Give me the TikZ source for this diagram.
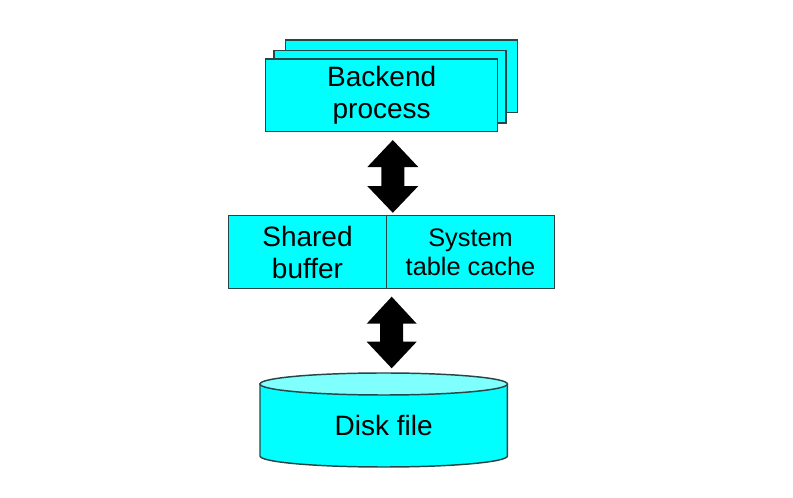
\documentclass[tikz,border=0pt]{standalone}
\usepackage{fontspec}
\setmainfont{Liberation Sans}
\usepackage{tikz}
\usetikzlibrary{calc}

\definecolor{boxcyan}{RGB}{0,255,255}
\definecolor{topcyan}{RGB}{128,255,255}
\definecolor{edgegray}{RGB}{40,70,70}

\tikzset{
  procbox/.style={draw=edgegray,fill=boxcyan,line width=1.1pt,outer sep=0pt,
    minimum width=174pt,minimum height=54.4pt,align=center,
    font=\fontsize{21}{24}\selectfont},
  cachebox/.style={draw=edgegray,fill=boxcyan,line width=1.1pt,outer sep=0pt,
    minimum height=54.45pt,align=center,inner sep=0pt},
  bigarrow/.style={fill=black}
}

\begin{document}
\begin{tikzpicture}[x=0.75pt,y=-0.75pt]
  \useasboundingbox (0,0) rectangle (793,498);
  % stack of processes
  \node[procbox](bp3)at(401.3,76.3){};
  \node[procbox](bp2)at(390,86.8){};
  \node[procbox](bp)at(381.7,95.5){Backend\\process};
  % memory
  \node[cachebox,minimum width=118.8pt,font=\fontsize{21}{24}\selectfont](sb)at(307.5,252){Shared\\buffer};
  \node[cachebox,minimum width=125.7pt,font=\fontsize{19}{22}\selectfont](stc)at(470.5,252){System\\table cache};
  % disk
  \filldraw[draw=edgegray,fill=boxcyan,line width=1.1pt] (260,384) -- (260,456)
      arc[start angle=180,end angle=0,x radius=123.7,y radius=11] -- (507.3,384) -- cycle;
  \filldraw[draw=edgegray,fill=topcyan,line width=1.1pt] (383.7,384) ellipse (123.7 and 11);
  \node[font=\fontsize{21}{24}\selectfont](df)at(383.7,425){Disk file};
  % arrows
  \coordinate(a1)at($(bp.south)+(11.1,8.3)$);
  \coordinate(a2)at($(sb.south east)+(5,8.4)$);
  \fill[bigarrow,shift={(a1)}] (0,0) -- (25.5,27) -- (11.5,27) -- (11.5,46) -- (25.5,46)
      -- (0,72.7) -- (-25.5,46) -- (-11.5,46) -- (-11.5,27) -- (-25.5,27) -- cycle;
  \fill[bigarrow,shift={(a2)}] (0,0) -- (25,27) -- (11.5,27) -- (11.5,45) -- (25,45)
      -- (0,71.6) -- (-25,45) -- (-11.5,45) -- (-11.5,27) -- (-25,27) -- cycle;
\end{tikzpicture}
\end{document}
